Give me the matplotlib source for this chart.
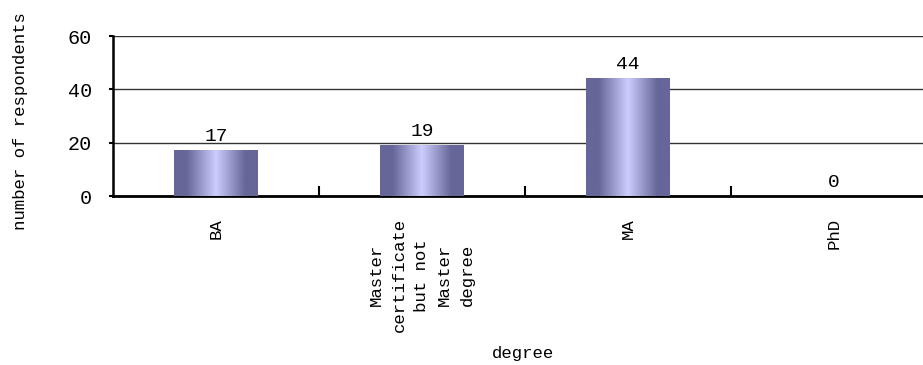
import numpy as np
import matplotlib
matplotlib.use("Agg")
import matplotlib.pyplot as plt
from matplotlib.colors import LinearSegmentedColormap

# respondents by highest degree
degrees = ["BA", "Master\ncertificate\nbut not\nMaster\ndegree", "MA", "PhD"]
counts = [17, 19, 44, 0]
y_ticks = [0, 20, 40, 60]

plt.rcParams['font.family'] = ['Liberation Mono', 'DejaVu Sans Mono']
plt.rcParams['font.size'] = 12.5

fig = plt.figure(figsize=(9.23, 3.65), dpi=100)
ax = fig.add_axes([113/923, 169/365, 824/923, 160/365])

x = np.arange(len(degrees))
bar_w = 0.403
bars = ax.bar(x, counts, width=bar_w, color='none', edgecolor='none', zorder=3)

# horizontal shading: dark at the sides, light in the middle
shade = LinearSegmentedColormap.from_list(
    "shade", [(0.0, "#ccccff"), (0.7, "#666699"), (1.0, "#666699")])
prof = np.abs(np.linspace(-1, 1, 200))[None, :]
for b in bars:
    h = b.get_height()
    if h <= 0:
        continue
    x0 = b.get_x()
    ax.imshow(prof, cmap=shade, vmin=0, vmax=1, aspect='auto',
              extent=[x0, x0 + b.get_width(), 0, h], zorder=3,
              interpolation='bilinear')

# value labels above each bar
for xi, v in zip(x, counts):
    ax.text(xi, v + 2.0, str(v), ha='center', va='bottom', fontsize=14, zorder=4)

ax.set_xlim(-0.5, len(degrees) - 0.5)
ax.set_ylim(0, 60)
ax.set_yticks(y_ticks)
ax.yaxis.grid(True, color='#333333', linewidth=1.0)
ax.set_axisbelow(True)

# ticks sit between categories, labels at category centres
ax.set_xticks(x[:-1] + 0.5)
ax.set_xticklabels([])
ax.tick_params(axis='x', which='major', direction='in', length=7, width=1.5)
ax.set_xticks(x, minor=True)
ax.set_xticklabels(degrees, minor=True, rotation=90, ha='center', va='top',
                   multialignment='center', linespacing=1.65)
ax.tick_params(axis='x', which='minor', length=0, pad=16)
ax.tick_params(axis='y', direction='out', length=3, width=1.5, pad=12,
               labelsize=14.5)

for s in ['top', 'right']:
    ax.spines[s].set_visible(False)
ax.spines['left'].set_linewidth(1.8)
ax.spines['bottom'].set_linewidth(2.0)

ax.set_ylabel("number of respondents")
ax.yaxis.set_label_coords(-0.103, 0.47)
ax.set_xlabel("degree")
ax.xaxis.set_label_coords(0.497, -0.94)

fig.savefig("out.png", dpi=100)
